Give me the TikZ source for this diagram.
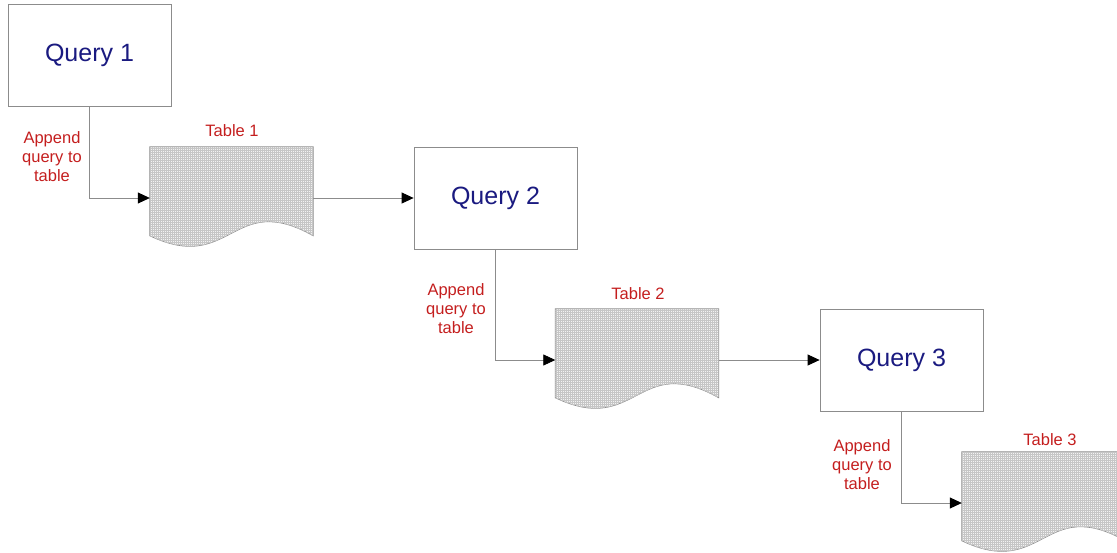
\documentclass[tikz,border=0pt]{standalone}
\usepackage{fontspec}
\setmainfont{Liberation Sans}
\usetikzlibrary{arrows.meta,patterns.meta,calc}
\definecolor{qblue}{HTML}{1A1A80}
\definecolor{lred}{HTML}{C41E1E}
\definecolor{edgegray}{HTML}{8C8C8C}
\tikzset{
  querybox/.style={draw=edgegray, line width=0.8pt, fill=white, minimum width=163pt, minimum height=102pt,
    inner sep=0pt, font=\fontsize{25}{30}\selectfont, text=qblue},
  tablebox/.style={minimum width=163pt, minimum height=102pt, inner sep=0pt},
  tablefill/.style={draw=edgegray, line width=0.7pt, fill=gray!10,
    postaction={pattern={Lines[distance=2pt,line width=0.3pt,angle=0]}, pattern color=gray!45},
    postaction={pattern={Lines[distance=2pt,line width=0.3pt,angle=90]}, pattern color=gray!45}},
  tablelabel/.style={font=\fontsize{16.5}{19}\selectfont, text=lred},
  applabel/.style={font=\fontsize{16.5}{19}\selectfont, text=lred, align=center, inner sep=0pt},
  conn/.style={draw=edgegray, line width=0.8pt, -{Triangle[length=12pt,width=11pt,fill=black,color=black]}}
}
\newcommand\doctable[1]{%
  \path[tablefill] (#1.north west) -- (#1.north east) -- ($(#1.north east)+(0,89)$)
    .. controls ($(#1.north west)+(82,43)$) and ($(#1.north west)+(82,128)$) .. ($(#1.north west)+(0,89)$) -- cycle;}
\begin{document}
\begin{tikzpicture}[x=1pt,y=-1pt]
\useasboundingbox (0,0) rectangle (1117,552);
\clip (0,0) rectangle (1117,552);
% query boxes
\node[querybox] (q1) at (89.5,55) {Query 1};
\node[querybox] (q2) at (495.5,198) {Query 2};
\node[querybox] (q3) at (901.5,360) {Query 3};
% table frames
\node[tablebox] (t1) at (231.5,198) {};
\node[tablebox] (t2) at (637,360) {};
\node[tablebox] (t3) at (1043.5,503) {};
\doctable{t1}
\doctable{t2}
\doctable{t3}
% table labels
\node[tablelabel] (l1) at (232,131) {Table 1};
\node[tablelabel] (l2) at (638,294) {Table 2};
\node[tablelabel] (l3) at (1050,440) {Table 3};
% append labels
\node[applabel] (a1) at (52,157) {Append\\query to\\table};
\node[applabel] (a2) at (456,309) {Append\\query to\\table};
\node[applabel] (a3) at (862,465) {Append\\query to\\table};
% connectors
\draw[conn] (q1.south) |- (t1.west);
\draw[conn] (t1.east) -- (q2.west);
\draw[conn] (q2.south) |- (t2.west);
\draw[conn] (t2.east) -- (q3.west);
\draw[conn] (q3.south) |- (t3.west);
\end{tikzpicture}
\end{document}
